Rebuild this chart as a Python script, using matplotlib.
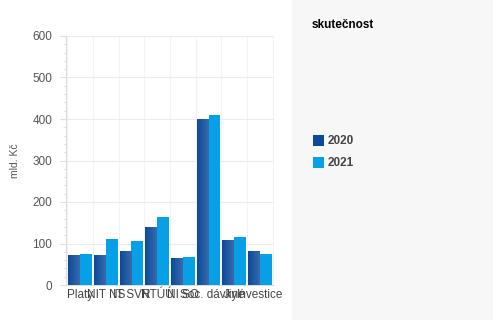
import matplotlib
matplotlib.use("Agg")
import matplotlib.pyplot as plt
import numpy as np
from matplotlib.patches import Rectangle
from matplotlib.ticker import MultipleLocator
from matplotlib.colors import LinearSegmentedColormap

categories = ["Platy", "NIT NS", "IT SVR", "NTÚÚ", "NI SO", "Soc. dávky", "Jiné", "Investice"]
v2020 = [73, 73, 82, 140, 66, 399, 109, 82]
v2021 = [75, 111, 106, 164, 68, 409, 116, 75]
series_names = ["2020", "2021"]
legend_title = "skutečnost"
ylabel = "mld. Kč"

W, H = 493, 320
fig = plt.figure(figsize=(W/100, H/100), dpi=100)
fig.patch.set_facecolor("white")
fig.add_artist(Rectangle((292/W, 0), 1, 1, transform=fig.transFigure,
                         facecolor="#f7f7f7", edgecolor="none", zorder=0))

ax = fig.add_axes([66/W, 1-285/H, (274-66)/W, (285-36)/H])
ax.set_facecolor("white")
x = np.arange(len(categories))
bw = 0.46
c1, c2 = "#0b4a9b", "#079fe6"
b1 = ax.bar(x - bw/2, v2020, bw, color=c1, zorder=3)
b2 = ax.bar(x + bw/2, v2021, bw, color=c2, zorder=3)

# gradient on 2020 bars
grad = np.linspace(0, 1, 64).reshape(1, -1)
cmap = LinearSegmentedColormap.from_list("g", ["#0b4a9b", "#3a6aaa"])
for p in b1:
    x0, y0 = p.get_x(), p.get_y()
    im = ax.imshow(grad, cmap=cmap, aspect="auto", zorder=3.5,
                   extent=(x0, x0 + p.get_width(), y0, y0 + p.get_height()))
    im.set_clip_path(p)

ax.set_xlim(-0.55, len(categories) - 0.45)
ax.set_ylim(0, 600)
ax.yaxis.set_major_locator(MultipleLocator(100))
ax.yaxis.set_minor_locator(MultipleLocator(20))
ax.set_xticks(x)
ax.set_xticklabels(categories, fontsize=8.5, color="#444444", family="Liberation Sans")
ax.set_xticks(np.arange(len(categories)+1) - 0.5, minor=True)
ax.tick_params(axis="x", which="both", length=0, pad=3)
ax.tick_params(axis="y", which="major", length=4, color="#dddddd", labelsize=8.5,
               labelcolor="#555555", pad=6)
ax.tick_params(axis="y", which="minor", length=2, color="#dddddd")
for lbl in ax.get_yticklabels():
    lbl.set_family("Liberation Sans")
ax.grid(axis="y", which="major", color="#ececec", lw=0.8, zorder=0)
ax.grid(axis="x", which="minor", color="#f3f3f3", lw=0.8, zorder=0)
for s in ["top", "right"]:
    ax.spines[s].set_visible(False)
ax.spines["left"].set_color("#dddddd")
ax.spines["bottom"].set_color("#dddddd")
ax.set_ylabel(ylabel, fontsize=7.5, color="#555555", family="Liberation Sans", labelpad=9)

fig.text(312/W, 1-25/H, legend_title, fontsize=8.5, fontweight="bold",
         family="Liberation Sans", va="center", ha="left")
for i, (nm, c) in enumerate(zip(series_names, [c1, c2])):
    yc = 141 + i*22
    fig.add_artist(Rectangle((313/W, 1-(yc+5)/H), 11/W, 11/H, transform=fig.transFigure,
                             facecolor=c, edgecolor="none"))
    fig.text(328/W, 1-yc/H, nm, fontsize=8.5, fontweight="bold", color="#444444",
             family="Liberation Sans", va="center", ha="left")

fig.savefig("out.png", dpi=100)
